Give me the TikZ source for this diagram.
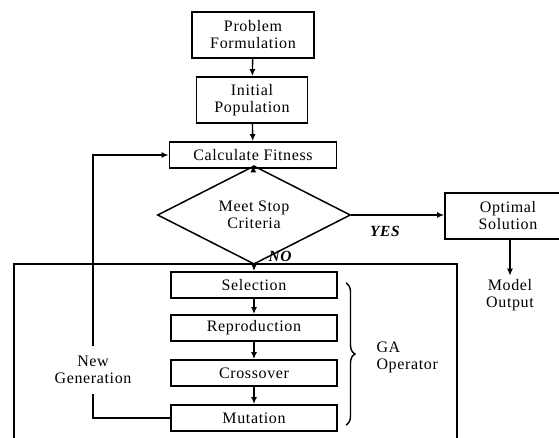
\documentclass[tikz,border=0pt]{standalone}
\usepackage{fontspec}
\setmainfont{Liberation Serif}[LetterSpace=4]
\usepackage{tikz}
\usetikzlibrary{shapes.geometric,arrows.meta,decorations.pathreplacing}

\begin{document}
\begin{tikzpicture}[x=1pt, y=-1pt,
		box_style/.style={rectangle,draw=black,line width=1.8pt,fill=white,align=center,inner sep=0pt,
			font=\fontsize{16}{17}\selectfont},
		op_style/.style={box_style,minimum width=166pt,minimum height=26pt},
		decision_style/.style={diamond,draw=black,line width=1.5pt,align=center,inner sep=0pt,
			minimum width=193pt,minimum height=64pt,font=\fontsize{16}{17}\selectfont},
		text_style/.style={align=center,font=\fontsize{16}{17}\selectfont},
		label_style/.style={font=\fontsize{15.5}{17}\selectfont\bfseries\itshape},
		edge_style/.style={draw=black,line width=1.4pt,-{Latex[length=7pt,width=6pt]}},
		line_style/.style={draw=black,line width=1.4pt}]
		
		\useasboundingbox (0,0) rectangle (559,438);
		
		% outer frame (runs off the bottom)
		\draw[line_style,line width=1.7pt] (14,440) -- (14,264) -- (457,264) -- (457,440);
		
		\node[box_style,minimum width=122pt,minimum height=46pt] (prob) at (253,35) {Problem\\Formulation};
		\node[box_style,minimum width=111pt,minimum height=46pt] (init) at (252,100) {Initial\\Population};
		\node[box_style,minimum width=167pt,minimum height=26pt] (calc) at (253,155) {Calculate Fitness};
		\node[decision_style] (stop) at (254,215) {Meet Stop\\Criteria};
		\node[box_style,minimum width=126pt,minimum height=46pt] (opt) at (508,216) {Optimal\\Solution};
		\node[text_style] (model) at (510,295) {Model\\Output};
		
		\node[op_style] (sel) at (254,285) {Selection};
		\node[op_style] (rep) at (254,328) {Reproduction};
		\node[op_style] (cross) at (254,373) {Crossover};
		\node[op_style] (mut) at (254,418) {Mutation};
		
		\node[text_style,inner ysep=10pt] (newgen) at (93,370) {New\\Generation};
		\node[text_style,align=left,anchor=west] (gaop) at (373,357) {GA\\Operator};
		
		\node[label_style] (yes) at (385,231) {YES};
		\node[label_style] (no) at (280,256) {NO};
		
		\draw[edge_style]  (prob) -- (init);
		\draw[edge_style]  (init) -- (calc);
		\draw[edge_style]  (calc) -- (stop);
		\draw[edge_style]  (stop) -- (sel);
		\draw[edge_style]  (sel) -- (rep);
		\draw[edge_style]  (rep) -- (cross);
		\draw[edge_style]  (cross) -- (mut);
		\draw[edge_style]  (stop.east) -- (opt.west |- stop.east);
		\draw[edge_style]  (opt.south -| model) -- (model.north);
		
		% loop back
		\draw[line_style]  (mut.west) -| (newgen.south);
		\draw[edge_style]  (newgen.north) |- (calc.west);
		
		\draw[line_style,decorate,decoration={brace,amplitude=9pt}] (346,283) -- (346,425);
		
\end{tikzpicture}
\end{document}
